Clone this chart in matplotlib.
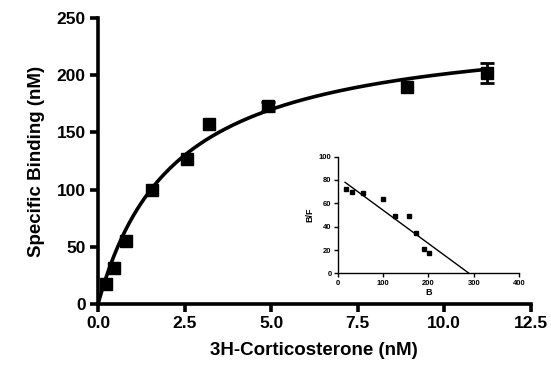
import numpy as np
import matplotlib
matplotlib.use("Agg")
import matplotlib.pyplot as plt

plt.rcParams["font.family"] = ["Liberation Sans", "DejaVu Sans"]

# saturation binding data
conc = [0.24, 0.46, 0.81, 1.56, 2.57, 3.2, 4.92, 8.93, 11.24]
bound = [17, 31, 55, 100, 127, 157, 173, 190, 202]
bound_err = [0, 0, 0, 0, 0, 0, 4, 0, 9]

# one-site fit parameters
bmax = 246.0
kd = 2.23

# Scatchard inset
scat_b = [17.6, 31.6, 55, 100.7, 127, 156.6, 172.8, 189.7, 202]
scat_bf = [72, 69.4, 69, 63.7, 49, 48.9, 34.9, 21, 17.7]
scat_line_b = [16, 290]
scat_line_bf = [78, 0]

fig = plt.figure(figsize=(5.51, 3.71), dpi=100)
ax = fig.add_axes([0.178, 0.181, 0.785, 0.770])

xfit = np.linspace(0, max(conc), 200)
ax.plot(xfit, bmax * xfit / (kd + xfit), color="black", lw=2.6)
ax.plot(conc, bound, "s", color="black", ms=8.5)
has_err = [i for i, e in enumerate(bound_err) if e > 0]
ax.errorbar([conc[i] for i in has_err], [bound[i] for i in has_err],
            yerr=[bound_err[i] for i in has_err], fmt="none", ecolor="black",
            capsize=5, elinewidth=2, capthick=2)

ax.set_xlim(0, 12.5)
ax.set_ylim(0, 250)
ax.set_xticks([0, 2.5, 5, 7.5, 10, 12.5])
ax.set_xticklabels(["0.0", "2.5", "5.0", "7.5", "10.0", "12.5"])
ax.set_yticks([0, 50, 100, 150, 200, 250])
for s in ["top", "right"]:
    ax.spines[s].set_visible(False)
for s in ["left", "bottom"]:
    ax.spines[s].set_linewidth(2.6)
ax.tick_params(width=2.6, length=6, labelsize=12.5, pad=3)
for lab in ax.get_xticklabels() + ax.get_yticklabels():
    lab.set_fontweight("bold")
ax.set_xlabel("3H-Corticosterone (nM)", fontsize=13.5, fontweight="bold", labelpad=8)
ax.set_ylabel("Specific Binding (nM)", fontsize=13.5, fontweight="bold", labelpad=8)

ins = fig.add_axes([0.613, 0.263, 0.329, 0.315])
ins.plot(scat_line_b, scat_line_bf, color="black", lw=1)
ins.plot(scat_b, scat_bf, "s", color="black", ms=3.2)
ins.set_xlim(0, 400)
ins.set_ylim(0, 100)
ins.set_xticks([0, 100, 200, 300, 400])
ins.set_yticks([0, 20, 40, 60, 80, 100])
for s in ["top", "right"]:
    ins.spines[s].set_visible(False)
for s in ["left", "bottom"]:
    ins.spines[s].set_linewidth(1)
ins.tick_params(width=1, length=3, labelsize=5.5, pad=1.5)
ins.set_xlabel("B", fontsize=6.5, fontweight="bold", labelpad=1)
ins.set_ylabel("B/F", fontsize=6.5, fontweight="bold", labelpad=3)
for lab in ins.get_xticklabels() + ins.get_yticklabels():
    lab.set_fontweight("bold")

fig.savefig("out.png", dpi=100)
